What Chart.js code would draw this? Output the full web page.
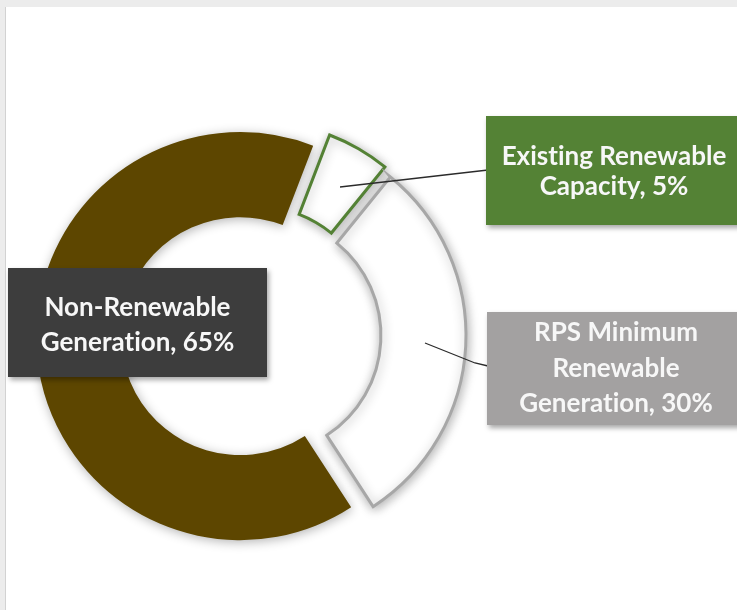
<!DOCTYPE html>
<html>
<head>
<meta charset="utf-8">
<script src="https://cdn.jsdelivr.net/npm/chart.js@4"></script>
<style>
  html, body { margin: 0; padding: 0; }
  body { width: 737px; height: 610px; overflow: hidden; background: #ececec; position: relative; font-family: Lato, "Open Sans", sans-serif; }
  #panel { position: absolute; left: 5px; top: 7px; width: 740px; height: 610px; background: #ffffff; border-left: 1px solid #d2d2d2; }
  #c { position: absolute; left: 0; top: 0; }
  .box { position: absolute; color: #f7f7f7; font-weight: 700; text-align: center; box-shadow: 2px 3px 5px rgba(0,0,0,0.35); font-variant-ligatures: none; font-feature-settings: "liga" 0, "clig" 0; }
  .box .t { position: absolute; left: 0; right: 0; white-space: nowrap; }
  svg { position: absolute; left: 0; top: 0; }
</style>
</head>
<body>
<div id="panel"></div>
<canvas id="c" width="737" height="610"></canvas>
<svg width="737" height="610">
  <polyline points="340,187 488,170" fill="none" stroke="#2b2b2b" stroke-width="1.3"/>
  <polyline points="425,343 475,363 488,366" fill="none" stroke="#2b2b2b" stroke-width="1.3"/>
</svg>
<div class="box" id="bNon" style="left:8px; top:268px; width:259px; height:109px; background:#3d3d3d;">
  <div class="t" style="top:21px; font-size:26px; line-height:35px;"></div>
</div>
<div class="box" id="bExist" style="left:486px; top:116px; width:256px; height:109px; background:#548235;">
  <div class="t" style="top:24px; font-size:26px; line-height:30px;"></div>
</div>
<div class="box" id="bRps" style="left:487px; top:312px; width:258px; height:113px; background:#a3a1a1;">
  <div class="t" style="top:2px; font-size:26px; line-height:35.5px;"></div>
</div>
<script>
// ---- data ----
const categories = ['Existing Renewable Capacity', 'RPS Minimum Renewable Generation', 'Non-Renewable Generation'];
const shares = [5, 30, 65];
const labelLines = [
  ['Existing Renewable', 'Capacity, 5%'],
  ['RPS Minimum', 'Renewable', 'Generation, 30%'],
  ['Non-Renewable', 'Generation, 65%']
];
// ---- styles ----
const fillColors = ['#ffffff', '#ffffff', '#5d4600'];
const borderColors = ['#548235', '#a7a7a7', '#5d4600'];
const borderWidths = [3, 3, 0];
const EXPLODE = 11;

document.querySelector('#bExist .t').innerHTML = labelLines[0].join('<br>');
document.querySelector('#bRps .t').innerHTML = labelLines[1].join('<br>');
document.querySelector('#bNon .t').innerHTML = labelLines[2].join('<br>');

const explodePlugin = {
  id: 'explode',
  beforeDatasetDraw(chart, args) {
    const ctx = chart.ctx;
    ctx.save();
    ctx.shadowColor = 'rgba(0,0,0,0.3)';
    ctx.shadowBlur = 11;
    ctx.shadowOffsetX = 1;
    ctx.shadowOffsetY = 2;
    const meta = chart.getDatasetMeta(args.index);
    meta.data.forEach(arc => {
      const mid = (arc.startAngle + arc.endAngle) / 2;
      arc._ox = arc.x; arc._oy = arc.y;
      arc.x = arc.x + Math.cos(mid) * EXPLODE;
      arc.y = arc.y + Math.sin(mid) * EXPLODE;
    });
  },
  afterDatasetDraw(chart, args) {
    const meta = chart.getDatasetMeta(args.index);
    meta.data.forEach(arc => { arc.x = arc._ox; arc.y = arc._oy; });
    chart.ctx.restore();
  }
};

new Chart(document.getElementById('c'), {
  type: 'doughnut',
  data: {
    labels: categories,
    datasets: [{
      data: shares,
      backgroundColor: fillColors,
      borderColor: borderColors,
      borderWidth: borderWidths,
      borderJoinStyle: 'miter'
    }]
  },
  options: {
    responsive: false,
    animation: false,
    devicePixelRatio: 1,
    rotation: 21,
    radius: 204,
    cutout: '58.3%',
    layout: { padding: { left: 0, right: 235, top: 60, bottom: 0 } },
    plugins: { legend: { display: false }, tooltip: { enabled: false } },
    events: []
  },
  plugins: [explodePlugin]
});
</script>
</body>
</html>
